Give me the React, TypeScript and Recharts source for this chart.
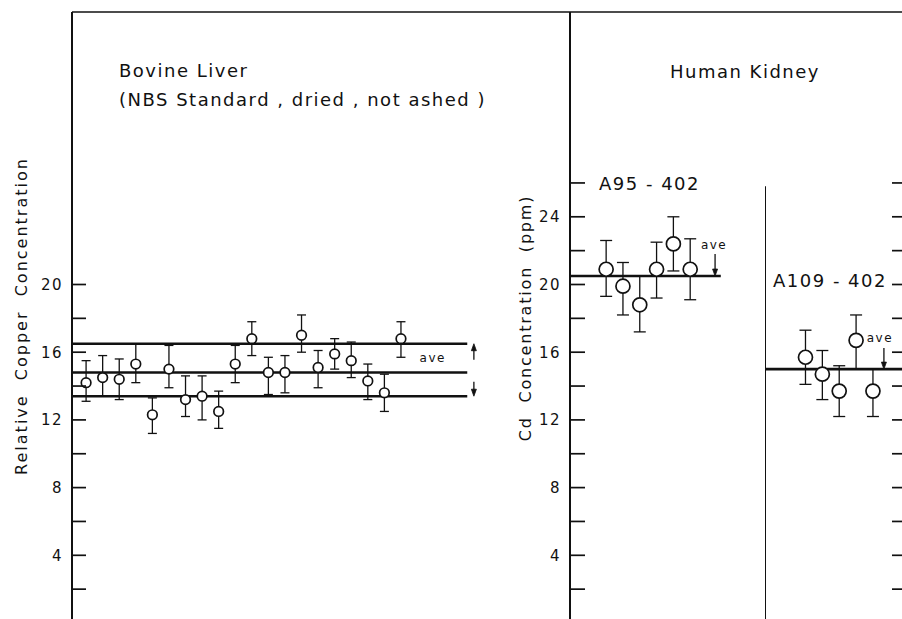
import React from "react";
import { ScatterChart, Scatter, XAxis, YAxis, ErrorBar, ReferenceLine } from "recharts";

// Bovine Liver (NBS standard) - relative Cu, values and error bar ends
const liverCu = [14.2, 14.5, 14.4, 15.3, 12.3, 15.0, 13.2, 13.4, 12.5, 15.3, 16.8, 14.8, 14.8, 17.0, 15.1, 15.9, 15.5, 14.3, 13.6, 16.8];
const liverHi = [15.5, 15.8, 15.6, 16.5, 13.3, 16.4, 14.6, 14.6, 13.7, 16.4, 17.8, 15.7, 15.8, 18.2, 16.1, 16.8, 16.6, 15.3, 14.7, 17.8];
const liverLo = [13.1, 13.4, 13.2, 14.2, 11.2, 13.9, 12.2, 12.0, 11.5, 14.2, 15.8, 13.5, 13.6, 16.0, 13.9, 15.0, 14.5, 13.2, 12.5, 15.7];
const liverBand = [16.5, 14.8, 13.4]; // +sd, ave, -sd

// Human kidney A95-402, Cd ppm
const a95Cd = [20.9, 19.9, 18.8, 20.9, 22.4, 20.9];
const a95Hi = [22.6, 21.3, 20.5, 22.5, 24.0, 22.7];
const a95Lo = [19.3, 18.2, 17.2, 19.2, 20.8, 19.1];
const a95Ave = 20.5;

// Human kidney A109-402, Cd ppm
const a109Cd = [15.7, 14.7, 13.7, 16.7, 13.7];
const a109Hi = [17.3, 16.1, 15.2, 18.2, 15.0];
const a109Lo = [14.1, 13.2, 12.2, 15.0, 12.2];
const a109Ave = 15.0;

const cuTicks = [2, 4, 6, 8, 10, 12, 14, 16, 18, 20];
const cdTicks = [2, 4, 6, 8, 10, 12, 14, 16, 18, 20, 22, 24, 26];

const Y_MAX = 36.1;
const H = 640;
const MARGIN = { top: 12, right: 0, bottom: 17, left: 0 };
const INK = "#111";
const FONT = "'DejaVu Sans', sans-serif";

const rows = (vals: number[], hi: number[], lo: number[]) =>
  vals.map((y, i) => ({ x: i + 1, y, err: [y - lo[i], hi[i] - y] }));

// ticks drawn pointing into the plot
const inTick = (axisX: number, dir: number, len: number, labelled: boolean) => (props: any) => {
  const { y, payload } = props;
  const v = payload.value;
  return (
    <g>
      <line x1={axisX} y1={y} x2={axisX + dir * len} y2={y} stroke={INK} strokeWidth={1.7} />
      {labelled && v % 4 === 0 && (
        <text x={axisX - 9} y={y} dy="0.36em" textAnchor="end" fontFamily={FONT} fontSize={15} letterSpacing={1.5} fill={INK}>
          {v}
        </text>
      )}
    </g>
  );
};

const arrow = (label?: string, dx = 0, dy = 0, anchor = "middle") => (props: any) => {
  const { x1, y1, x2, y2 } = props;
  const d = Math.sign(y2 - y1);
  return (
    <g>
      <line x1={x1} y1={y1} x2={x2} y2={y2 - d * 4} stroke={INK} strokeWidth={1.3} />
      <path d={`M${x2 - 2.5},${y2 - d * 7} L${x2},${y2} L${x2 + 2.5},${y2 - d * 7} Z`} fill={INK} stroke={INK} strokeWidth={0.8} />
      {label && (
        <text x={x1 + dx} y={y1 + dy} textAnchor={anchor} fontFamily={FONT} fontSize={12} letterSpacing={1.5} fill={INK}>
          {label}
        </text>
      )}
    </g>
  );
};

const dot = (r: number) => (props: any) => (
  <circle cx={props.cx} cy={props.cy} r={r} fill="#fff" stroke={INK} strokeWidth={1.7} />
);

const line = { stroke: INK, strokeWidth: 2.6, ifOverflow: "visible" as const };

function LiverPanel() {
  const data = rows(liverCu, liverHi, liverLo);
  return (
    <ScatterChart width={570} height={H} margin={MARGIN}>
      <XAxis type="number" dataKey="x" domain={[0.15, 30.2]} hide allowDataOverflow />
      <YAxis
        type="number"
        dataKey="y"
        domain={[0, Y_MAX]}
        ticks={cuTicks}
        interval={0}
        width={72}
        allowDataOverflow
        axisLine={{ stroke: INK, strokeWidth: 2 }}
        tickLine={false}
        tick={inTick(72, 1, 14, true)}
      />
      <ReferenceLine y={Y_MAX} stroke={INK} strokeWidth={1.6} ifOverflow="visible" />
      {liverBand.map((v) => (
        <ReferenceLine key={v} segment={[{ x: 0.15, y: v }, { x: 24, y: v }]} {...line} />
      ))}
      <ReferenceLine segment={[{ x: 24.4, y: 15.55 }, { x: 24.4, y: liverBand[0] }]} ifOverflow="visible" shape={arrow("ave", -28, 2, "end")} />
      <ReferenceLine segment={[{ x: 24.4, y: 14.25 }, { x: 24.4, y: liverBand[2] }]} ifOverflow="visible" shape={arrow()} />
      <Scatter data={data} dataKey="y" isAnimationActive={false} shape={dot(4.8)}>
        <ErrorBar dataKey="err" direction="y" width={4.5} stroke={INK} strokeWidth={1.3} isAnimationActive={false} />
      </Scatter>
    </ScatterChart>
  );
}

function A95Panel() {
  const data = rows(a95Cd, a95Hi, a95Lo);
  return (
    <ScatterChart width={295} height={H} margin={MARGIN}>
      <XAxis type="number" dataKey="x" domain={[-1.15, 10.45]} hide allowDataOverflow />
      <YAxis
        type="number"
        dataKey="y"
        domain={[0, Y_MAX]}
        ticks={cdTicks}
        interval={0}
        width={100}
        allowDataOverflow
        axisLine={{ stroke: INK, strokeWidth: 2 }}
        tickLine={false}
        tick={inTick(100, 1, 15, true)}
      />
      <ReferenceLine y={Y_MAX} stroke={INK} strokeWidth={1.6} ifOverflow="visible" />
      <ReferenceLine segment={[{ x: -1.15, y: a95Ave }, { x: 7.82, y: a95Ave }]} {...line} />
      <ReferenceLine segment={[{ x: 7.48, y: 21.8 }, { x: 7.48, y: a95Ave }]} ifOverflow="visible" shape={arrow("ave", -1, -5)} />
      <Scatter data={data} dataKey="y" isAnimationActive={false} shape={dot(7)}>
        <ErrorBar dataKey="err" direction="y" width={6} stroke={INK} strokeWidth={1.3} isAnimationActive={false} />
      </Scatter>
    </ScatterChart>
  );
}

function A109Panel() {
  const data = rows(a109Cd, a109Hi, a109Lo);
  return (
    <ScatterChart width={155} height={H} margin={MARGIN}>
      <XAxis type="number" dataKey="x" domain={[-1.4, 6.9]} hide allowDataOverflow />
      <YAxis
        type="number"
        dataKey="y"
        orientation="right"
        domain={[0, Y_MAX]}
        ticks={cdTicks}
        interval={0}
        width={15}
        allowDataOverflow
        axisLine={{ stroke: INK, strokeWidth: 2 }}
        tickLine={false}
        tick={inTick(140, -1, 13, false)}
      />
      <ReferenceLine y={Y_MAX} stroke={INK} strokeWidth={1.6} ifOverflow="visible" />
      <ReferenceLine segment={[{ x: -1.4, y: 0 }, { x: -1.4, y: 25.8 }]} stroke={INK} strokeWidth={2} ifOverflow="visible" />
      <ReferenceLine segment={[{ x: -1.4, y: a109Ave }, { x: 6.9, y: a109Ave }]} {...line} />
      <ReferenceLine segment={[{ x: 5.65, y: 16.25 }, { x: 5.65, y: a109Ave }]} ifOverflow="visible" shape={arrow("ave", -4, -6)} />
      <Scatter data={data} dataKey="y" isAnimationActive={false} shape={dot(7)}>
        <ErrorBar dataKey="err" direction="y" width={6} stroke={INK} strokeWidth={1.3} isAnimationActive={false} />
      </Scatter>
    </ScatterChart>
  );
}

export default function App() {
  const txt = { fontFamily: FONT, fill: INK } as const;
  return (
    <div style={{ position: "absolute", left: 0, top: 0, width: 902, height: 619, overflow: "hidden", background: "#fff" }}>
      <div style={{ position: "absolute", left: 0, top: 0 }}>
        <LiverPanel />
      </div>
      <div style={{ position: "absolute", left: 470, top: 0 }}>
        <A95Panel />
      </div>
      <div style={{ position: "absolute", left: 765, top: 0 }}>
        <A109Panel />
      </div>
      <svg width={902} height={619} style={{ position: "absolute", left: 0, top: 0, pointerEvents: "none" }}>
        <text x={119} y={77} fontSize={18} letterSpacing={1.5} {...txt}>Bovine Liver</text>
        <text x={119} y={106} fontSize={18} letterSpacing={1.5} {...txt} style={{ whiteSpace: "pre" }}>(NBS Standard , dried , not ashed )</text>
        <text x={745} y={78} fontSize={18} letterSpacing={1.5} textAnchor="middle" {...txt}>Human  Kidney</text>
        <text x={599} y={190} fontSize={18} letterSpacing={1.5} {...txt} style={{ whiteSpace: "pre" }}>A95 - 402</text>
        <text x={773} y={287} fontSize={18} letterSpacing={1.5} {...txt} style={{ whiteSpace: "pre" }}>A109 - 402</text>
        <text transform="translate(27,316) rotate(-90)" textAnchor="middle" fontSize={16} letterSpacing={2} {...txt} style={{ whiteSpace: "pre" }}>
          Relative  Copper  Concentration
        </text>
        <text transform="translate(531,318) rotate(-90)" textAnchor="middle" fontSize={16} letterSpacing={1.8} {...txt} style={{ whiteSpace: "pre" }}>
          Cd  Concentration  (ppm)
        </text>
      </svg>
    </div>
  );
}
